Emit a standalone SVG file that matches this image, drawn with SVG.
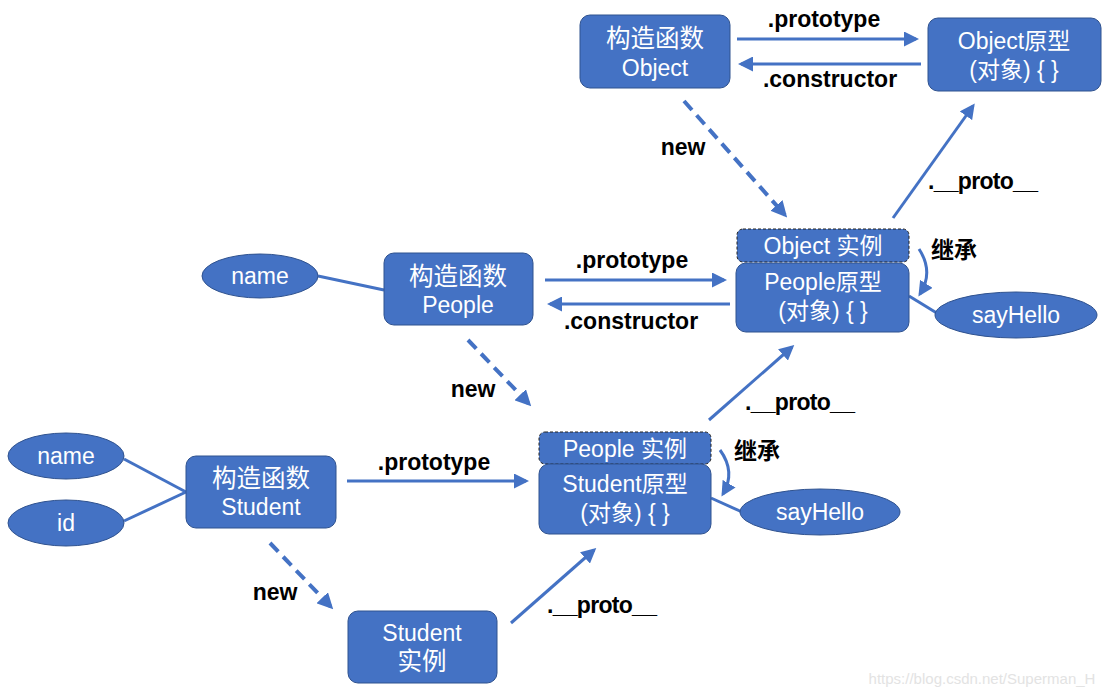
<svg xmlns="http://www.w3.org/2000/svg" width="1111" height="696" viewBox="0 0 1111 696">
<style>
.box{fill:#4472C4;stroke:#2F528F;stroke-width:1}
.inst{fill:#4472C4;stroke:#222;stroke-width:1;stroke-dasharray:3 2}
.nt{fill:#fff;font-family:"Liberation Sans","Noto Sans CJK SC",sans-serif;font-size:23px;text-anchor:middle}
.cn{font-size:24.5px}
.lb{fill:#000;font-family:"Liberation Sans","Noto Sans CJK SC",sans-serif;font-weight:bold;font-size:23px;text-anchor:middle}
.jc{fill:#000;font-family:"Noto Sans CJK SC",sans-serif;font-weight:bold;font-size:23px;text-anchor:middle}
.ln{stroke:#4472C4;stroke-width:3;fill:none}
.ar{stroke:#4472C4;stroke-width:3;fill:none;marker-end:url(#ah)}
.da{stroke:#4472C4;stroke-width:4;fill:none;stroke-dasharray:12 7;marker-end:url(#ahd)}
</style>
<defs>
<marker id="ah" viewBox="0 0 10 10" refX="8" refY="5" markerWidth="5" markerHeight="5" orient="auto" markerUnits="strokeWidth">
<path d="M0,0 L10,5 L0,10 z" fill="#4472C4"/>
</marker>
<marker id="ahd" viewBox="0 0 10 10" refX="8" refY="5" markerWidth="4" markerHeight="4" orient="auto" markerUnits="strokeWidth">
<path d="M0,0 L10,5 L0,10 z" fill="#4472C4"/>
</marker>
</defs>
<rect width="1111" height="696" fill="#fff"/>

<g id="connectors">
<line class="ar" x1="737" y1="39" x2="916" y2="39"/>
<line class="ar" x1="921" y1="64" x2="741" y2="64"/>
<line class="da" x1="684" y1="101" x2="785" y2="215"/>
<line class="ar" x1="893" y1="218" x2="973" y2="106"/>
<path class="ar" d="M919,249 Q934,272 920,294"/>
<line class="ln" x1="909" y1="296" x2="940" y2="315"/>
<line class="ln" x1="318" y1="276" x2="384" y2="290"/>
<line class="ar" x1="545" y1="280" x2="724" y2="280"/>
<line class="ar" x1="730" y1="304" x2="550" y2="304"/>
<line class="da" x1="468" y1="340" x2="529" y2="404"/>
<line class="ar" x1="709" y1="420" x2="792" y2="347"/>
<path class="ar" d="M720,450 Q736,472 723,494"/>
<line class="ln" x1="711" y1="498" x2="742" y2="512"/>
<line class="ln" x1="124" y1="459" x2="186" y2="492"/>
<line class="ln" x1="124" y1="521" x2="186" y2="492"/>
<line class="ar" x1="347" y1="481" x2="526" y2="481"/>
<line class="da" x1="270" y1="543" x2="331" y2="607"/>
<line class="ar" x1="511" y1="623" x2="594" y2="550"/>
<text class="lb" x="824" y="27">.prototype</text>
<text class="lb" x="830" y="87">.constructor</text>
<text class="lb" x="683" y="155">new</text>
<text class="lb" x="983" y="189" textLength="110">.__proto__</text>
<text class="jc" x="954" y="258">继承</text>
<text class="lb" x="632" y="268">.prototype</text>
<text class="lb" x="631" y="329">.constructor</text>
<text class="lb" x="473" y="397">new</text>
<text class="lb" x="800" y="410" textLength="110">.__proto__</text>
<text class="jc" x="757" y="459">继承</text>
<text class="lb" x="434" y="470">.prototype</text>
<text class="lb" x="275" y="600">new</text>
<text class="lb" x="602" y="613" textLength="110">.__proto__</text>
</g>

<g id="ctor-object"><rect class="box" x="580" y="15" width="150" height="73" rx="10"/><text class="nt" x="655" y="47"><tspan class="cn">构造函数</tspan><tspan x="655" dy="29">Object</tspan></text></g>
<g id="object-proto"><rect class="box" x="928" y="18" width="173" height="73" rx="10"/><text class="nt" x="1014" y="49">Object原型<tspan x="1014" dy="29">(对象) { }</tspan></text></g>
<g id="object-instance"><rect class="inst" x="737" y="229" width="172" height="33" rx="6"/><text class="nt" x="823" y="254">Object 实例</text></g>
<g id="people-proto"><rect class="box" x="736" y="263" width="173" height="69" rx="10"/><text class="nt" x="823" y="290">People原型<tspan x="823" dy="29">(对象) { }</tspan></text></g>
<g id="sayhello-1"><ellipse class="box" cx="1016" cy="315" rx="81" ry="23"/><text class="nt" x="1016" y="323">sayHello</text></g>
<g id="name-1"><ellipse class="box" cx="260" cy="276" rx="58" ry="22"/><text class="nt" x="260" y="284">name</text></g>
<g id="ctor-people"><rect class="box" x="384" y="253" width="149" height="72" rx="10"/><text class="nt" x="458" y="285"><tspan class="cn">构造函数</tspan><tspan x="458" dy="28">People</tspan></text></g>
<g id="people-instance"><rect class="inst" x="539" y="432" width="172" height="32" rx="6"/><text class="nt" x="625" y="457">People 实例</text></g>
<g id="student-proto"><rect class="box" x="539" y="464" width="172" height="70" rx="10"/><text class="nt" x="625" y="492">Student原型<tspan x="625" dy="29">(对象) { }</tspan></text></g>
<g id="sayhello-2"><ellipse class="box" cx="820" cy="512" rx="80" ry="23"/><text class="nt" x="820" y="520">sayHello</text></g>
<g id="name-2"><ellipse class="box" cx="66" cy="456" rx="58" ry="23"/><text class="nt" x="66" y="464">name</text></g>
<g id="id"><ellipse class="box" cx="66" cy="523" rx="58" ry="23"/><text class="nt" x="66" y="531">id</text></g>
<g id="ctor-student"><rect class="box" x="186" y="456" width="150" height="72" rx="10"/><text class="nt" x="261" y="487"><tspan class="cn">构造函数</tspan><tspan x="261" dy="28">Student</tspan></text></g>
<g id="student-instance"><rect class="box" x="348" y="611" width="149" height="72" rx="10"/><text class="nt" x="422" y="641">Student<tspan class="cn" x="422" dy="29">实例</tspan></text></g>

<text x="982" y="684" style="fill:#e3e3e3;font-family:'Liberation Sans',sans-serif;font-size:15px;text-anchor:middle">https://blog.csdn.net/Superman_H</text>
</svg>
